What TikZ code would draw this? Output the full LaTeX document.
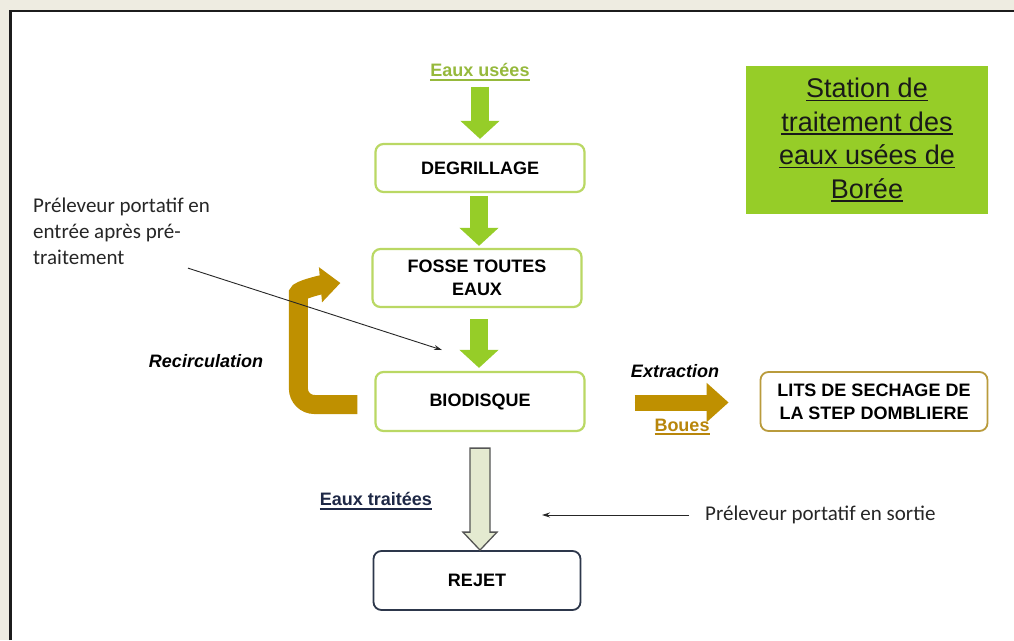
\documentclass[tikz,border=0pt]{standalone}
\usepackage{fontspec}
\setmainfont{Liberation Sans}
\newfontfamily\calib{Carlito}
\usetikzlibrary{arrows.meta,calc}

% underline drawn as a rule below the text box
\newlength{\undldepth}
\setlength{\undldepth}{3.8pt}
\newcommand{\undl}[1]{\setbox0\hbox{#1}\leavevmode\rlap{\rule[-\undldepth]{\wd0}{1.6pt}}\box0}

\definecolor{pagebg}{RGB}{238,236,225}
\definecolor{framecol}{RGB}{28,28,28}
\definecolor{lime}{RGB}{150,205,40}
\definecolor{boxgreen}{RGB}{186,216,100}
\definecolor{eauxgreen}{RGB}{150,185,60}
\definecolor{ochre}{RGB}{191,144,0}
\definecolor{bouescol}{RGB}{184,134,11}
\definecolor{litsborder}{RGB}{185,155,60}
\definecolor{hollowfill}{RGB}{228,234,208}
\definecolor{hollowline}{RGB}{85,85,85}
\definecolor{rejetborder}{RGB}{45,55,75}
\definecolor{navytext}{RGB}{30,40,70}

\begin{document}
\begin{tikzpicture}[x=1pt,y=-1pt,
  box/.style={draw, rounded corners=8pt, line width=2.2pt, fill=white,
    align=center, inner sep=0pt, text=black,
    font=\fontsize{18}{23}\selectfont\bfseries},
  greenbox/.style={box, draw=boxgreen, minimum width=209pt},
  lbl/.style={inner sep=0pt, font=\fontsize{18}{22}\selectfont\bfseries},
  note/.style={inner sep=0pt, text=black!85, font=\calib\fontsize{21}{26}\selectfont},
  limearrow/.style={draw=lime, fill=lime, line width=18pt,
    -{Triangle[length=18pt,width=38pt]}},
  ochrearrow/.style={draw=ochre, fill=ochre, line width=16pt,
    -{Triangle[length=22pt,width=38pt]}},
  pointer/.style={draw=black!85, line width=0.9pt,
    -{Stealth[length=8pt,width=5pt]}}
]
\useasboundingbox (0,0) rectangle (1014,640);

% page and frame
\fill[pagebg] (0,0) rectangle (1014,640);
\fill[white] (10,11) rectangle (1014,640);
\draw[framecol, line width=2.6pt] (10.3,640) -- (10.3,11) -- (1014,11);

% title box
\node[fill=lime, minimum width=242pt, minimum height=148pt, inner sep=0pt,
  align=center, text=black!90, font=\fontsize{27}{33.5}\selectfont]
  (station) at (867,140)
  {\undl{Station de}\\ \undl{traitement des}\\ \undl{eaux usées de}\\ \undl{Borée}};

% process boxes
\node[lbl, text=eauxgreen] (eaux) at (480,72) {\undl{Eaux usées}};
\node[greenbox, minimum height=48pt] (degr) at (480,168) {DEGRILLAGE};
\node[greenbox, minimum height=58pt] (fosse) at (477,278) {FOSSE TOUTES\\EAUX};
\node[greenbox, minimum height=59pt] (bio) at (480,401.5) {BIODISQUE};
\node[box, draw=litsborder, line width=1.8pt, minimum width=227pt, minimum height=59pt]
  (lits) at (874,401.5) {LITS DE SECHAGE DE\\LA STEP DOMBLIERE};
\node[box, draw=rejetborder, line width=1.8pt, minimum width=207pt, minimum height=59pt]
  (rejet) at (477,580.5) {REJET};

% main flow
\draw[limearrow] ($(eaux.south)+(0,6)$) -- ($(degr.north)+(0,-4)$);
\draw[limearrow] ($(degr.south)+(-1,3)$) -- ($(degr.south |- fosse.north)+(-1,-2)$);
\draw[limearrow] ($(fosse.south)+(2,11)$) -- ($(bio.north)+(-1,-3)$);

% treated water towards discharge
\coordinate (tip) at (bio.south |- rejet.north);
\draw[fill=hollowfill, draw=hollowline, line width=1.3pt, line join=miter]
  ($(bio.south)+(-10,16)$) -- ($(tip)+(-10,-18)$) -- ($(tip)+(-17,-18)$)
  -- (tip) -- ($(tip)+(17,-18)$) -- ($(tip)+(10,-18)$)
  -- ($(bio.south)+(10,16)$) -- cycle;
\node[lbl, text=navytext] (traitees) at (376,501) {\undl{Eaux traitées}};

% recirculation loop
\draw[draw=ochre, line width=19pt, rounded corners=16pt,
  -{Triangle[length=20pt,width=34pt]}]
  ($(bio.west)+(-17,3)$) -- ($(bio.west)+(-76,3)$) -- ($(bio.west)+(-76,-92)$)
  to[out=90,in=185] ($(fosse.west)+(-31,5)$);
\node[lbl, font=\fontsize{18}{22}\selectfont\bfseries\itshape] (recirc) at (206,361) {Recirculation};

% sludge extraction
\draw[ochrearrow] ($(bio.east)+(49,1)$) -- ($(lits.west)+(-31,1)$);
\node[lbl, font=\fontsize{18}{22}\selectfont\bfseries\itshape] (extr) at (675,371) {Extraction};
\node[lbl, text=bouescol] (boues) at (682,427) {\undl{Boues}};

% sampling points
\node[note, anchor=north west, align=left] (pe) at (33,198)
  {Préleveur portatif en\\entrée après pré-\\traitement};
\coordinate (pin) at (442,350);
\draw[pointer] ($(pe.south west)+(155,3)$) -- (pin);

\node[note, anchor=west] (ps) at (705,515) {Préleveur portatif en sortie};
\coordinate (pout) at (542,515);
\draw[pointer] ($(ps.west)+(-16,0)$) -- (pout);
\end{tikzpicture}
\end{document}
